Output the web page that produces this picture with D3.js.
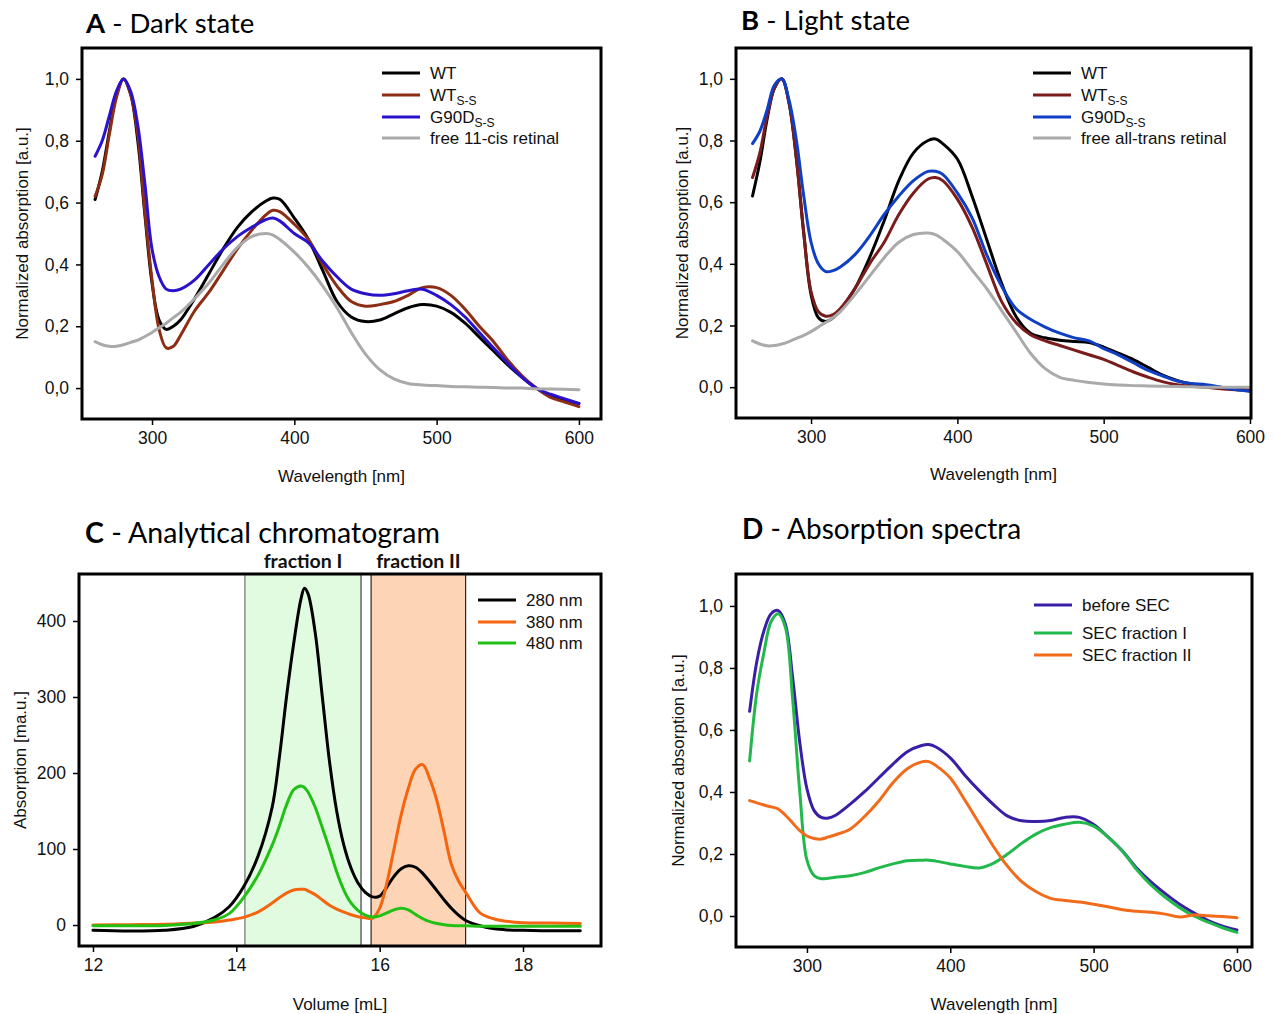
<!DOCTYPE html>
<html><head><meta charset="utf-8">
<script src="https://cdn.jsdelivr.net/npm/d3@7"></script>
<style>
body{margin:0;background:#fff;}
svg{display:block;}
text{font-family:"Liberation Sans",Arial,sans-serif;}
.title{font-family:Lato,"Open Sans",sans-serif;}
</style></head>
<body>
<svg id="chart" width="1274" height="1014"></svg>
<script>
// ---------- DATA ----------
const wavelengths = [260,265,270,275,280,285,290,295,300,305,310,315,320,330,340,350,360,370,380,385,390,400,410,420,430,440,450,460,470,480,490,500,510,520,530,540,550,560,570,580,590,600];

// Panel A - Dark state
const darkWT      = [0.61,0.70,0.83,0.95,1.0,0.95,0.80,0.56,0.34,0.22,0.19,0.20,0.22,0.29,0.37,0.45,0.52,0.57,0.605,0.615,0.61,0.55,0.48,0.38,0.28,0.23,0.215,0.22,0.24,0.26,0.27,0.265,0.245,0.21,0.165,0.12,0.075,0.035,0.0,-0.025,-0.04,-0.05];
const darkWTss    = [0.62,0.69,0.82,0.94,1.0,0.95,0.82,0.57,0.35,0.19,0.13,0.135,0.17,0.25,0.31,0.38,0.45,0.51,0.56,0.575,0.57,0.53,0.48,0.40,0.33,0.28,0.265,0.27,0.28,0.30,0.325,0.325,0.30,0.255,0.20,0.15,0.09,0.04,0.0,-0.03,-0.045,-0.06];
const darkG90D    = [0.75,0.80,0.88,0.96,1.0,0.96,0.85,0.66,0.45,0.36,0.32,0.315,0.32,0.35,0.40,0.45,0.49,0.52,0.545,0.55,0.54,0.50,0.47,0.41,0.36,0.32,0.305,0.30,0.305,0.315,0.32,0.30,0.27,0.23,0.18,0.13,0.08,0.035,0.0,-0.02,-0.035,-0.05];
const darkRetinal = [0.15,0.14,0.135,0.135,0.14,0.148,0.155,0.167,0.18,0.195,0.21,0.228,0.245,0.29,0.34,0.40,0.455,0.49,0.50,0.495,0.48,0.44,0.39,0.33,0.26,0.18,0.11,0.06,0.03,0.015,0.01,0.008,0.005,0.004,0.003,0.002,0.0,0.0,-0.002,-0.003,-0.004,-0.005];

// Panel B - Light state
const lightWT      = [0.62,0.73,0.87,0.97,1.0,0.92,0.74,0.50,0.30,0.225,0.213,0.225,0.25,0.32,0.42,0.54,0.67,0.76,0.80,0.805,0.79,0.74,0.62,0.48,0.34,0.23,0.175,0.16,0.152,0.148,0.145,0.13,0.11,0.09,0.065,0.04,0.022,0.01,0.003,0.0,-0.005,-0.01];
const lightWTss    = [0.68,0.76,0.88,0.97,1.0,0.92,0.74,0.50,0.31,0.245,0.23,0.235,0.255,0.32,0.40,0.47,0.56,0.63,0.675,0.68,0.67,0.61,0.52,0.40,0.28,0.21,0.17,0.15,0.135,0.12,0.105,0.09,0.07,0.05,0.033,0.018,0.008,0.003,0.0,-0.005,-0.008,-0.01];
const lightG90D    = [0.79,0.83,0.90,0.98,1.0,0.93,0.80,0.62,0.47,0.40,0.375,0.378,0.39,0.43,0.49,0.56,0.62,0.67,0.70,0.70,0.69,0.63,0.55,0.43,0.33,0.255,0.22,0.195,0.175,0.16,0.15,0.125,0.105,0.08,0.055,0.037,0.02,0.012,0.008,0.0,-0.008,-0.014];
const lightRetinal = [0.15,0.14,0.134,0.135,0.14,0.148,0.158,0.168,0.18,0.195,0.21,0.225,0.245,0.30,0.36,0.42,0.47,0.495,0.50,0.495,0.48,0.44,0.38,0.32,0.25,0.18,0.11,0.06,0.032,0.022,0.015,0.01,0.007,0.005,0.004,0.003,0.002,0.001,0.0,0.0,0.0,0.0];

// Panel C - Analytical chromatogram
const volumes = [12.0,12.5,13.0,13.4,13.7,13.9,14.1,14.3,14.5,14.6,14.7,14.8,14.9,14.95,15.0,15.1,15.2,15.3,15.4,15.5,15.6,15.7,15.8,15.9,16.0,16.1,16.2,16.3,16.4,16.5,16.6,16.7,16.8,16.9,17.0,17.1,17.2,17.4,17.6,17.8,18.0,18.4,18.8];
const abs280 = [-7,-8,-7,-2,10,24,50,90,155,220,300,370,428,443,436,385,300,215,150,105,75,55,43,37,38,50,64,74,78,76,68,57,45,33,22,13,6,-1,-5,-6.5,-7,-7.5,-7.5];
const abs380 = [0,0.5,1,2.5,4,6.5,10,17,29,36,42,46,47,47,45,40,33,26,21,17,13.5,11,9.5,9,22,55,100,145,180,205,211,192,163,122,80,58,43,16,8,4.5,3,2.5,2];
const abs480 = [-1,-1,-0.5,2,7,15,36,65,105,130,158,178,183,181,175,155,128,100,70,46,29,19,13,10.5,12,16,20,22,20,14,8.5,4.5,2,0.5,-0.5,-1,-1,-1.5,-1.5,-1.5,-1.5,-1.5,-1.5];
const fractionNames = ["fraction I","fraction II"];
const fractionRanges = [[14.12,15.74],[15.88,17.20]];

// Panel D - Absorption spectra
const beforeSEC = [0.66,0.82,0.92,0.975,0.985,0.94,0.77,0.56,0.41,0.34,0.318,0.316,0.325,0.36,0.40,0.445,0.49,0.53,0.55,0.553,0.545,0.51,0.455,0.405,0.36,0.322,0.307,0.305,0.308,0.318,0.318,0.295,0.255,0.21,0.155,0.11,0.072,0.038,0.01,-0.015,-0.033,-0.045];
const secFrac1  = [0.50,0.72,0.85,0.95,0.975,0.93,0.70,0.40,0.18,0.13,0.12,0.122,0.125,0.13,0.14,0.155,0.168,0.178,0.18,0.18,0.177,0.168,0.16,0.155,0.17,0.20,0.235,0.265,0.285,0.296,0.302,0.29,0.255,0.21,0.15,0.10,0.06,0.027,0.0,-0.02,-0.038,-0.053];
const secFrac2  = [0.372,0.365,0.358,0.352,0.345,0.325,0.30,0.275,0.258,0.25,0.248,0.255,0.262,0.28,0.32,0.37,0.43,0.475,0.497,0.498,0.485,0.445,0.375,0.30,0.225,0.16,0.11,0.078,0.057,0.05,0.045,0.038,0.03,0.02,0.015,0.012,0.006,-0.003,0.003,0.001,-0.002,-0.006];

const specYTicks = [0,0.2,0.4,0.6,0.8,1.0];
const specXTicks = [300,400,500,600];
const chromYTicks = [0,100,200,300,400];
const chromXTicks = [12,14,16,18];

// ---------- DRAWING ----------
const svg = d3.select("#chart");
const commaFmt = d => d3.format(".1f")(d).replace(".", ",");
const FONT = "Liberation Sans, Arial, sans-serif";

function panel(cfg){
  const g = svg.append("g");
  const x = d3.scaleLinear().domain(cfg.xDomain).range([cfg.left, cfg.right]);
  const y = d3.scaleLinear().domain(cfg.yDomain).range([cfg.bottom, cfg.top]);

  // title
  const t = g.append("text").attr("class","title").attr("x", cfg.titleX).attr("y", cfg.titleY)
    .attr("font-size", cfg.titleSize || 27.5).attr("fill","#000");
  t.append("tspan").attr("font-weight","bold").text(cfg.letter);
  t.append("tspan").text(" - " + cfg.title);

  if (cfg.before) cfg.before(g, x, y);

  const clipId = "clip" + cfg.letter;
  g.append("clipPath").attr("id", clipId).append("rect")
    .attr("x", cfg.left).attr("y", cfg.top).attr("width", cfg.right - cfg.left).attr("height", cfg.bottom - cfg.top);

  const line = d3.line().x(d => x(d[0])).y(d => y(d[1])).curve(d3.curveCatmullRom.alpha(0.5));
  const plot = g.append("g").attr("clip-path", `url(#${clipId})`);
  cfg.series.forEach(s => {
    plot.append("path").datum(cfg.xs.map((v,i) => [v, s.values[i]]))
      .attr("d", line).attr("fill","none").attr("stroke", s.color)
      .attr("stroke-width", 3).attr("stroke-linejoin","round").attr("stroke-linecap","round");
  });

  // axes
  const xAxis = d3.axisBottom(x).tickValues(cfg.xTicks).tickSize(6).tickPadding(7).tickFormat(cfg.xFmt || d3.format("d"));
  const ax = g.append("g").attr("transform", `translate(0,${cfg.bottom})`).call(xAxis);
  const yAxis = d3.axisLeft(y).tickValues(cfg.yTicks).tickSize(6).tickPadding(7).tickFormat(cfg.yFmt);
  const ay = g.append("g").attr("transform", `translate(${cfg.left},0)`).call(yAxis);
  [ax, ay].forEach(a => {
    a.select(".domain").remove();
    a.selectAll(".tick line").attr("stroke","#000").attr("stroke-width",1.5);
    a.selectAll(".tick text").attr("font-size",17.5).attr("font-family",FONT).attr("fill","#111");
  });

  // frame
  g.append("rect").attr("x", cfg.left).attr("y", cfg.top)
    .attr("width", cfg.right - cfg.left).attr("height", cfg.bottom - cfg.top)
    .attr("fill","none").attr("stroke","#000").attr("stroke-width",3);

  // axis titles
  g.append("text").attr("x", (cfg.left + cfg.right)/2).attr("y", cfg.xLabelY)
    .attr("text-anchor","middle").attr("font-size",17).attr("fill","#111").text(cfg.xLabel);
  g.append("text").attr("transform", `translate(${cfg.yLabelX},${(cfg.top + cfg.bottom)/2}) rotate(-90)`)
    .attr("text-anchor","middle").attr("font-size",17).attr("fill","#111").text(cfg.yLabel);

  // legend
  cfg.series.forEach((s, i) => {
    const ly = cfg.legend.ys[i];
    g.append("line").attr("x1", cfg.legend.x).attr("x2", cfg.legend.x + 38)
      .attr("y1", ly).attr("y2", ly).attr("stroke", s.color).attr("stroke-width", 3);
    const tx = g.append("text").attr("x", cfg.legend.x + 48).attr("y", ly + 6)
      .attr("font-size", 17).attr("fill","#111");
    tx.append("tspan").text(s.name);
    if (s.sub) tx.append("tspan").attr("font-size", 12).attr("dy", 4).text(s.sub);
  });
}

panel({
  letter:"A", title:"Dark state", titleX:86, titleY:33,
  left:82, right:601, top:48, bottom:419,
  xDomain:[250.8,615.5], yDomain:[-0.1,1.1],
  xs: wavelengths, xTicks: specXTicks, yTicks: specYTicks, yFmt: commaFmt,
  xLabel:"Wavelength [nm]", xLabelY:482, yLabel:"Normalized absorption [a.u.]", yLabelX:28,
  legend:{x:382, ys:[73,95,117,138]},
  series:[
    {name:"WT", values:darkWT, color:"#000000"},
    {name:"WT", sub:"S-S", values:darkWTss, color:"#8c2d14"},
    {name:"G90D", sub:"S-S", values:darkG90D, color:"#2a12cc"},
    {name:"free 11-cis retinal", values:darkRetinal, color:"#a9a9a9"}
  ]
});

panel({
  letter:"B", title:"Light state", titleX:741, titleY:30,
  left:736, right:1251, top:48, bottom:418,
  xDomain:[248.7,600.7], yDomain:[-0.1,1.1],
  xs: wavelengths, xTicks: specXTicks, yTicks: specYTicks, yFmt: commaFmt,
  xLabel:"Wavelength [nm]", xLabelY:480, yLabel:"Normalized absorption [a.u.]", yLabelX:688,
  legend:{x:1033, ys:[73,95,117,138]},
  series:[
    {name:"WT", values:lightWT, color:"#000000"},
    {name:"WT", sub:"S-S", values:lightWTss, color:"#7a1c1c"},
    {name:"G90D", sub:"S-S", values:lightG90D, color:"#0f3fc4"},
    {name:"free all-trans retinal", values:lightRetinal, color:"#aaaaaa"}
  ]
});

panel({
  letter:"C", title:"Analytical chromatogram", titleX:85, titleY:543, titleSize:28.5,
  left:79, right:601, top:574, bottom:946,
  xDomain:[11.805,19.088], yDomain:[-27.6,461.8],
  xs: volumes, xTicks: chromXTicks, yTicks: chromYTicks, yFmt: d3.format("d"),
  xLabel:"Volume [mL]", xLabelY:1010, yLabel:"Absorption [ma.u.]", yLabelX:26,
  legend:{x:478, ys:[600,622,643]},
  series:[
    {name:"280 nm", values:abs280, color:"#000000"},
    {name:"380 nm", values:abs380, color:"#f5650f"},
    {name:"480 nm", values:abs480, color:"#22c014"}
  ],
  before:(g, x, y) => {
    const fills = ["#e1fbe1","#fdd4b5"];
    fractionRanges.forEach((r, i) => {
      g.append("rect").attr("x", x(r[0])).attr("y", 574).attr("width", x(r[1]) - x(r[0])).attr("height", 946 - 574)
        .attr("fill", fills[i]).attr("stroke", i === 0 ? "#555" : "#000").attr("stroke-width", 1);
      g.append("text").attr("class","title").attr("x", (x(r[0]) + x(r[1]))/2).attr("y", 568)
        .attr("text-anchor","middle").attr("font-size",19.5).attr("font-weight","bold").attr("fill","#111")
        .text(fractionNames[i]);
    });
    g.append("line").attr("x1", x(fractionRanges[0][1])).attr("x2", x(fractionRanges[0][1]))
      .attr("y1", 574).attr("y2", 946).attr("stroke", "#888").attr("stroke-width", 2);
  }
});

panel({
  letter:"D", title:"Absorption spectra", titleX:742, titleY:539, titleSize:28,
  left:736, right:1252, top:574, bottom:947,
  xDomain:[250.5,610.5], yDomain:[-0.1,1.103],
  xs: wavelengths, xTicks: specXTicks, yTicks: specYTicks, yFmt: commaFmt,
  xLabel:"Wavelength [nm]", xLabelY:1010, yLabel:"Normalized absorption [a.u.]", yLabelX:684,
  legend:{x:1034, ys:[605,633,655]},
  series:[
    {name:"before SEC", values:beforeSEC, color:"#3a1fa6"},
    {name:"SEC fraction I", values:secFrac1, color:"#22b84c"},
    {name:"SEC fraction II", values:secFrac2, color:"#f26b1b"}
  ]
});
</script>
</body></html>
